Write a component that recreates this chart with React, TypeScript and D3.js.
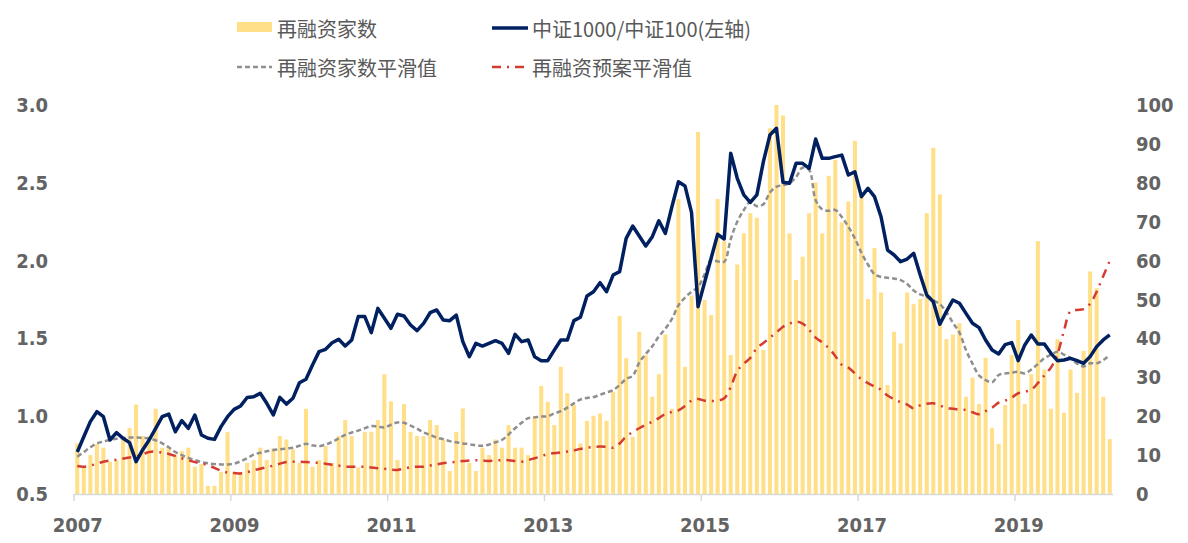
import React from "react";
import * as d3 from "d3";

// ---- data (monthly, 2007-01 .. 2020-03) ----
const startMonth = new Date(2007, 0, 1);
const endMonth = new Date(2020, 3, 1);
const months = d3.timeMonths(startMonth, endMonth);

const xTickYears = ["2007", "2009", "2011", "2013", "2015", "2017", "2019"];
const leftTicks = [0.5, 1.0, 1.5, 2.0, 2.5, 3.0];
const rightTicks = [0, 10, 20, 30, 40, 50, 60, 70, 80, 90, 100];

// 再融资家数 (right axis)
const refinanceCount = [
  13.0, 7.0, 10.0, 12.8, 11.9, 8.3, 8.7, 13.9, 17.0, 23.0, 14.9, 14.9,
  21.9, 11.9, 11.9, 10.0, 11.0, 11.9, 7.0, 7.7, 2.1, 2.1, 5.7, 15.9,
  5.7, 5.7, 8.0, 8.7, 11.9, 8.7, 11.7, 14.9, 14.0, 11.5, 8.0, 21.9,
  7.0, 8.7, 12.3, 8.0, 14.9, 19.0, 14.9, 6.8, 16.0, 16.0, 19.0, 30.8,
  23.8, 8.7, 23.1, 16.0, 14.9, 14.9, 19.0, 17.7, 14.0, 5.9, 16.0, 22.0,
  8.0, 5.9, 11.9, 10.0, 14.0, 11.9, 17.7, 11.9, 11.9, 10.0, 20.0, 27.8,
  23.7, 17.7, 32.7, 25.9, 22.9, 13.0, 18.8, 20.1, 20.7, 18.8, 26.3, 45.8,
  34.9, 14.7, 41.7, 35.7, 25.0, 30.8, 41.0, 21.9, 75.8, 32.7, 51.0, 93.1,
  49.9, 46.0, 75.8, 65.0, 35.7, 59.0, 67.0, 72.2, 71.0, 37.0, 94.0, 100,
  97.3, 67.0, 55.0, 61.0, 72.2, 80.1, 67.0, 81.8, 85.9, 69.8, 75.2, 90.8,
  77.0, 50.1, 63.2, 51.8, 28.0, 41.7, 38.7, 51.8, 48.8, 50.1, 72.2, 89.0,
  77.0, 39.8, 41.0, 43.9, 25.0, 29.9, 23.1, 35.0, 17.0, 12.9, 22.9, 35.7,
  44.7, 23.1, 30.8, 65.0, 32.0, 21.9, 39.8, 20.9, 32.0, 26.0, 36.8, 57.2,
  52.9, 25.0, 14.1,
];

// 中证1000/中证100 (left axis)
const ratio1000to100 = [
  0.77, 0.868, 0.965, 1.029, 0.997, 0.847, 0.894, 0.858, 0.83, 0.708, 0.783, 0.847,
  0.922, 0.997, 1.014, 0.9, 0.971, 0.922, 1.008, 0.879, 0.858, 0.851, 0.933, 0.997,
  1.044, 1.066, 1.12, 1.125, 1.147, 1.083, 1.008, 1.121, 1.078, 1.115, 1.215, 1.237,
  1.329, 1.415, 1.43, 1.472, 1.494, 1.451, 1.49, 1.64, 1.64, 1.537, 1.693, 1.629,
  1.565, 1.655, 1.644, 1.586, 1.55, 1.597, 1.665, 1.683, 1.618, 1.614, 1.65, 1.479,
  1.382, 1.468, 1.451, 1.468, 1.485, 1.468, 1.404, 1.526, 1.479, 1.49, 1.382, 1.357,
  1.357, 1.425, 1.49, 1.49, 1.614, 1.636, 1.773, 1.8, 1.858, 1.8, 1.907, 1.929,
  2.143, 2.222, 2.158, 2.094, 2.154, 2.256, 2.175, 2.346, 2.507, 2.48, 2.31, 1.704,
  1.86, 2.015, 2.169, 2.139, 2.69, 2.529, 2.422, 2.374, 2.422, 2.636, 2.807, 2.85,
  2.503, 2.497, 2.625, 2.625, 2.593, 2.781, 2.657, 2.657, 2.668, 2.678, 2.55, 2.571,
  2.411, 2.464, 2.411, 2.282, 2.068, 2.036, 1.993, 2.01, 2.047, 1.907, 1.779, 1.736,
  1.591, 1.672, 1.747, 1.726, 1.661, 1.597, 1.569, 1.49, 1.425, 1.4, 1.46, 1.473,
  1.357, 1.458, 1.522, 1.464, 1.464, 1.404, 1.357, 1.361, 1.372, 1.357, 1.34, 1.383,
  1.447, 1.49, 1.522,
];

// 再融资家数平滑值 (right axis)
const countSmooth = [
  9.6, 10.8, 12.0, 13.0, 13.5, 13.9, 14.2, 14.4, 14.5, 14.5, 14.4, 14.3,
  13.8, 13.0, 12.0, 10.8, 10.0, 9.3, 8.7, 8.2, 7.9, 7.7, 7.6, 7.6,
  7.8, 8.4, 9.2, 10.1, 10.6, 11.0, 11.3, 11.5, 11.7, 11.9, 12.4, 12.9,
  12.5, 12.3, 12.7, 13.4, 14.3, 15.2, 15.8, 16.3, 16.9, 17.5, 17.3, 17.1,
  17.8, 18.4, 18.3, 17.6, 16.8, 15.8, 15.2, 14.5, 14.1, 13.6, 13.3, 13.0,
  12.8, 12.5, 12.4, 12.7, 13.3, 13.9, 15.3, 16.9, 18.3, 19.5, 19.7, 19.9,
  20.0, 20.7, 21.3, 22.2, 23.3, 24.3, 24.7, 24.9, 25.5, 26.1, 26.7, 28.0,
  29.6, 30.4, 33.8, 36.0, 38.0, 40.5, 42.5, 45.0, 48.5, 50.5, 52.0, 53.2,
  56.5, 60.2, 59.8, 59.7, 65.5, 70.0, 73.0, 75.1, 74.0, 74.5, 77.5, 79.0,
  79.4, 79.9, 81.5, 83.9, 83.3, 75.5, 73.2, 72.8, 73.0, 71.2, 68.7, 65.7,
  62.0, 59.0, 56.5, 55.8, 55.6, 55.4, 55.0, 54.0, 52.3, 51.3, 50.7, 49.8,
  48.8, 46.8, 44.0, 41.5, 37.0, 33.5, 30.5, 29.3, 28.7, 30.6, 31.0, 31.2,
  31.4, 31.0, 32.0, 33.4, 34.9, 35.8, 36.6, 35.8, 34.9, 33.5, 32.8, 33.6,
  33.6, 34.4, 35.7,
];

// 再融资预案平滑值 (right axis)
const planSmooth = [
  7.2, 7.0, 7.3, 7.8, 8.3, 8.6, 8.8, 9.1, 9.4, 9.6, 10.2, 10.8,
  10.9, 10.6, 10.3, 9.8, 9.2, 8.7, 8.2, 7.8, 7.4, 6.7, 6.0, 5.5,
  5.4, 5.3, 5.6, 6.1, 6.5, 6.9, 7.3, 7.8, 8.2, 8.3, 8.3, 8.2,
  8.1, 8.0, 7.8, 7.5, 7.3, 7.0, 7.0, 7.0, 7.0, 6.8, 6.6, 6.5,
  6.3, 6.2, 6.5, 6.9, 7.0, 7.0, 7.3, 7.6, 7.9, 8.1, 8.3, 8.5,
  8.6, 8.7, 8.6, 8.5, 8.6, 8.7, 8.7, 8.5, 8.3, 8.7, 9.2, 9.7,
  10.3, 10.5, 10.7, 10.9, 11.2, 11.6, 11.9, 12.1, 12.2, 12.1, 11.9, 13.0,
  14.8, 15.9, 16.9, 17.8, 18.6, 19.5, 20.6, 21.1, 21.5, 22.6, 24.0, 24.4,
  24.0, 23.9, 24.0, 24.6, 27.5, 31.6, 33.5, 35.0, 37.5, 38.8, 40.2, 41.5,
  43.0, 43.8, 44.3, 43.8, 42.2, 40.2, 39.0, 37.5, 35.5, 33.2, 32.5, 31.0,
  29.5, 28.5, 27.6, 26.8, 25.3, 24.4, 23.6, 23.0, 22.0, 22.8, 23.2, 23.3,
  22.8, 22.1, 21.9, 21.7, 21.6, 21.0, 20.5, 21.3, 22.2, 23.5, 24.0, 24.8,
  25.9, 26.3, 26.8, 28.5, 30.5, 32.5, 36.0, 42.0, 47.0, 47.3, 47.5, 48.9,
  52.0, 56.0, 59.9,
];

const legendLabels = ["再融资家数", "中证1000/中证100(左轴)", "再融资家数平滑值", "再融资预案平滑值"];

// ---- styles ----
const W = 1188;
const H = 543;
const plot = { left: 74, right: 1113, top: 105, bottom: 494 };
const BAR_COLOR = "#FFDF88";
const NAVY = "#002060";
const GRAY = "#8F8F8F";
const RED = "#D63B32";
const AXIS_TEXT = "#636363";
const LEGEND_TEXT = "#595959";
const tickFont = '"DejaVu Sans Condensed", "DejaVu Sans", sans-serif';
const cjkFont = '"Noto Sans CJK SC", "Noto Sans", sans-serif';

export default function App() {
  const keys = months.map((_, i) => i);
  const x = d3
    .scaleBand<number>()
    .domain(keys)
    .range([plot.left, plot.right])
    .paddingInner(0.38)
    .paddingOuter(0.19);
  const cx = (i: number) => (x(i) as number) + x.bandwidth() / 2;
  const yL = d3.scaleLinear().domain([0.5, 3.0]).range([plot.bottom, plot.top]);
  const yR = d3.scaleLinear().domain([0, 100]).range([plot.bottom, plot.top]);

  const navyLine = d3
    .line<number>()
    .x((_, i) => cx(i))
    .y((d) => yL(d))
    .curve(d3.curveLinear);
  const smoothLine = d3
    .line<number>()
    .x((_, i) => cx(i))
    .y((d) => yR(d))
    .curve(d3.curveCatmullRom.alpha(0.5));

  const tickIdx = xTickYears.map((yr) =>
    months.findIndex((m) => m.getFullYear() === +yr && m.getMonth() === 0)
  );

  return (
    <svg
      width={W}
      height={H}
      style={{ position: "absolute", left: 0, top: 0, background: "#fff" }}
    >
      {/* bars */}
      <g>
        {refinanceCount.map((v, i) => (
          <rect
            key={i}
            x={x(i)}
            y={yR(v)}
            width={x.bandwidth()}
            height={yR(0) - yR(v)}
            fill={BAR_COLOR}
          />
        ))}
      </g>

      {/* x axis */}
      <line
        x1={plot.left}
        x2={plot.right}
        y1={plot.bottom + 0.5}
        y2={plot.bottom + 0.5}
        stroke="#D9D9D9"
        strokeWidth={1.5}
      />
      {tickIdx.map((ti, k) => {
        const tx = x(ti) as number - x.step() * 0.19;
        return (
          <g key={k}>
            <line x1={tx} x2={tx} y1={plot.bottom} y2={plot.bottom + 7} stroke="#D9D9D9" strokeWidth={1.5} />
            <text
              x={cx(ti) + 0.5}
              y={525}
              textAnchor="middle"
              dominantBaseline="central"
              fontFamily={tickFont}
              fontWeight="bold"
              fontSize={20}
              fill={AXIS_TEXT}
            >
              {xTickYears[k]}
            </text>
          </g>
        );
      })}

      {/* left axis labels */}
      {leftTicks.map((t) => (
        <text
          key={t}
          x={48}
          y={yL(t)}
          textAnchor="end"
          dominantBaseline="central"
          fontFamily={tickFont}
          fontWeight="bold"
          fontSize={20}
          fill={AXIS_TEXT}
        >
          {d3.format(".1f")(t)}
        </text>
      ))}

      {/* right axis labels */}
      {rightTicks.map((t) => (
        <text
          key={t}
          x={1136}
          y={yR(t)}
          textAnchor="start"
          dominantBaseline="central"
          fontFamily={tickFont}
          fontWeight="bold"
          fontSize={20}
          fill={AXIS_TEXT}
        >
          {t}
        </text>
      ))}

      {/* smoothed lines */}
      <path
        d={smoothLine(countSmooth) || ""}
        fill="none"
        stroke={GRAY}
        strokeWidth={2.5}
        strokeDasharray="5,3"
      />
      <path
        d={smoothLine(planSmooth) || ""}
        fill="none"
        stroke={RED}
        strokeWidth={2.5}
        strokeDasharray="9,6,2,6"
      />
      {/* ratio line */}
      <path
        d={navyLine(ratio1000to100) || ""}
        fill="none"
        stroke={NAVY}
        strokeWidth={3.5}
        strokeLinejoin="round"
      />

      {/* legend */}
      <g fontFamily={cjkFont} fontSize={20} fill={LEGEND_TEXT}>
        <rect x={237} y={22} width={35} height={10} fill={BAR_COLOR} />
        <text x={277} y={28} dominantBaseline="central">{legendLabels[0]}</text>

        <line x1={492} x2={528} y1={28} y2={28} stroke={NAVY} strokeWidth={3.5} />
        <text x={532} y={28} dominantBaseline="central">{legendLabels[1]}</text>

        <line x1={237} x2={272} y1={67} y2={67} stroke={GRAY} strokeWidth={2.5} strokeDasharray="5,3" />
        <text x={277} y={67} dominantBaseline="central">{legendLabels[2]}</text>

        <line x1={492} x2={528} y1={67} y2={67} stroke={RED} strokeWidth={2.5} strokeDasharray="9,6,2,6" />
        <text x={532} y={67} dominantBaseline="central">{legendLabels[3]}</text>
      </g>
    </svg>
  );
}
